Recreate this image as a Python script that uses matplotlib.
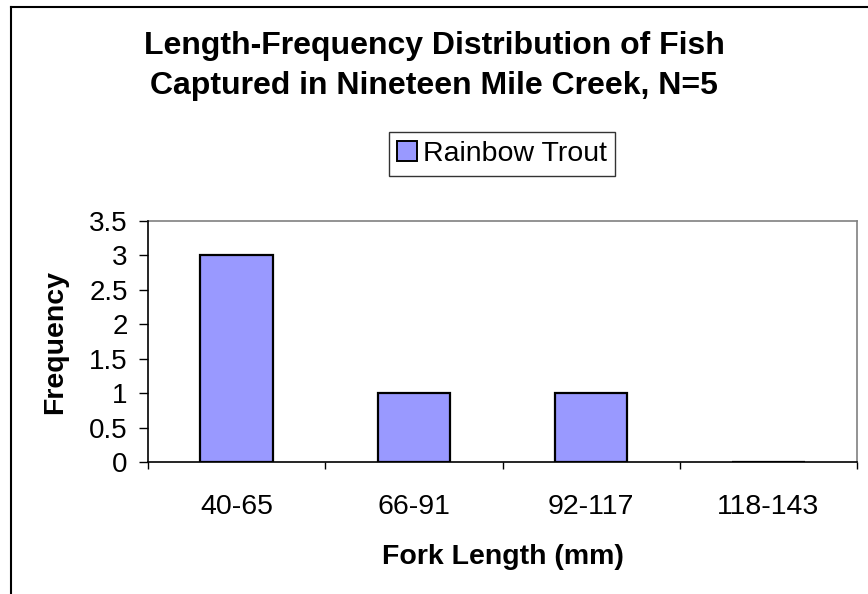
import matplotlib.pyplot as plt
from matplotlib.lines import Line2D
from matplotlib.patches import Patch
import numpy as np

plt.rcParams.update({
    "font.family": ["Liberation Sans", "DejaVu Sans"],
})

# --- Data ---
bins = ["40-65", "66-91", "92-117", "118-143"]
counts = [3, 1, 1, 0]
series_name = "Rainbow Trout"
yticks = [0, 0.5, 1, 1.5, 2, 2.5, 3, 3.5]
ytick_labels = ["0", "0.5", "1", "1.5", "2", "2.5", "3", "3.5"]

fig = plt.figure(figsize=(8.68, 5.94), dpi=100)
ax = fig.add_axes([148 / 868, 132 / 594, 709 / 868, 241 / 594])

x = np.arange(len(bins))
ax.bar(x, counts, width=0.41, color="#9999FF", edgecolor="black", linewidth=1.6, zorder=2)

ax.set_xlim(-0.5, len(bins) - 0.5)
ax.set_ylim(0, 3.5)
ax.set_yticks(yticks)
ax.set_yticklabels(ytick_labels, fontsize=20)
ax.set_xticks(x)
ax.set_xticklabels(bins, fontsize=20.5)
ax.set_xticks(np.arange(-0.5, len(bins)), minor=True)
ax.tick_params(axis="x", which="major", length=0, pad=23)
ax.tick_params(axis="x", which="minor", length=5, width=1, direction="out")
ax.tick_params(axis="y", length=6.5, width=1, direction="out", pad=8)

for side in ["top", "right"]:
    ax.spines[side].set_color("#808080")
    ax.spines[side].set_linewidth(1.2)
for side in ["left", "bottom"]:
    ax.spines[side].set_color("black")
    ax.spines[side].set_linewidth(1.2)
    ax.spines[side].set_zorder(3)

ax.set_xlabel("Fork Length (mm)", fontsize=20.5, fontweight="bold", labelpad=17)
ax.set_ylabel("Frequency", fontsize=20.5, fontweight="bold", labelpad=15)

fig.text(0.5, 1 - 66 / 594, "Length-Frequency Distribution of Fish\nCaptured in Nineteen Mile Creek, N=5",
         ha="center", va="center", fontsize=23, fontweight="bold", linespacing=1.45)

# legend box above the plot
handle = Patch(facecolor="#9999FF", edgecolor="black", linewidth=1.4)
leg = fig.legend([handle], [series_name], loc="center",
                 bbox_to_anchor=(502 / 868, 1 - 154 / 594), fontsize=20.5,
                 frameon=True, fancybox=False, edgecolor="black",
                 handlelength=0.7, handleheight=0.7, handletextpad=0.2,
                 borderpad=0.3, borderaxespad=0)
leg.get_frame().set_linewidth(1.0)

# outer chart border (left and top edges)
fig.add_artist(Line2D([11 / 868, 11 / 868], [0, 1 - 7 / 594], color="black", lw=1.5,
                      transform=fig.transFigure))
fig.add_artist(Line2D([11 / 868, 1], [1 - 7 / 594, 1 - 7 / 594], color="black", lw=1.5,
                      transform=fig.transFigure))

fig.savefig("out.png", dpi=100)
